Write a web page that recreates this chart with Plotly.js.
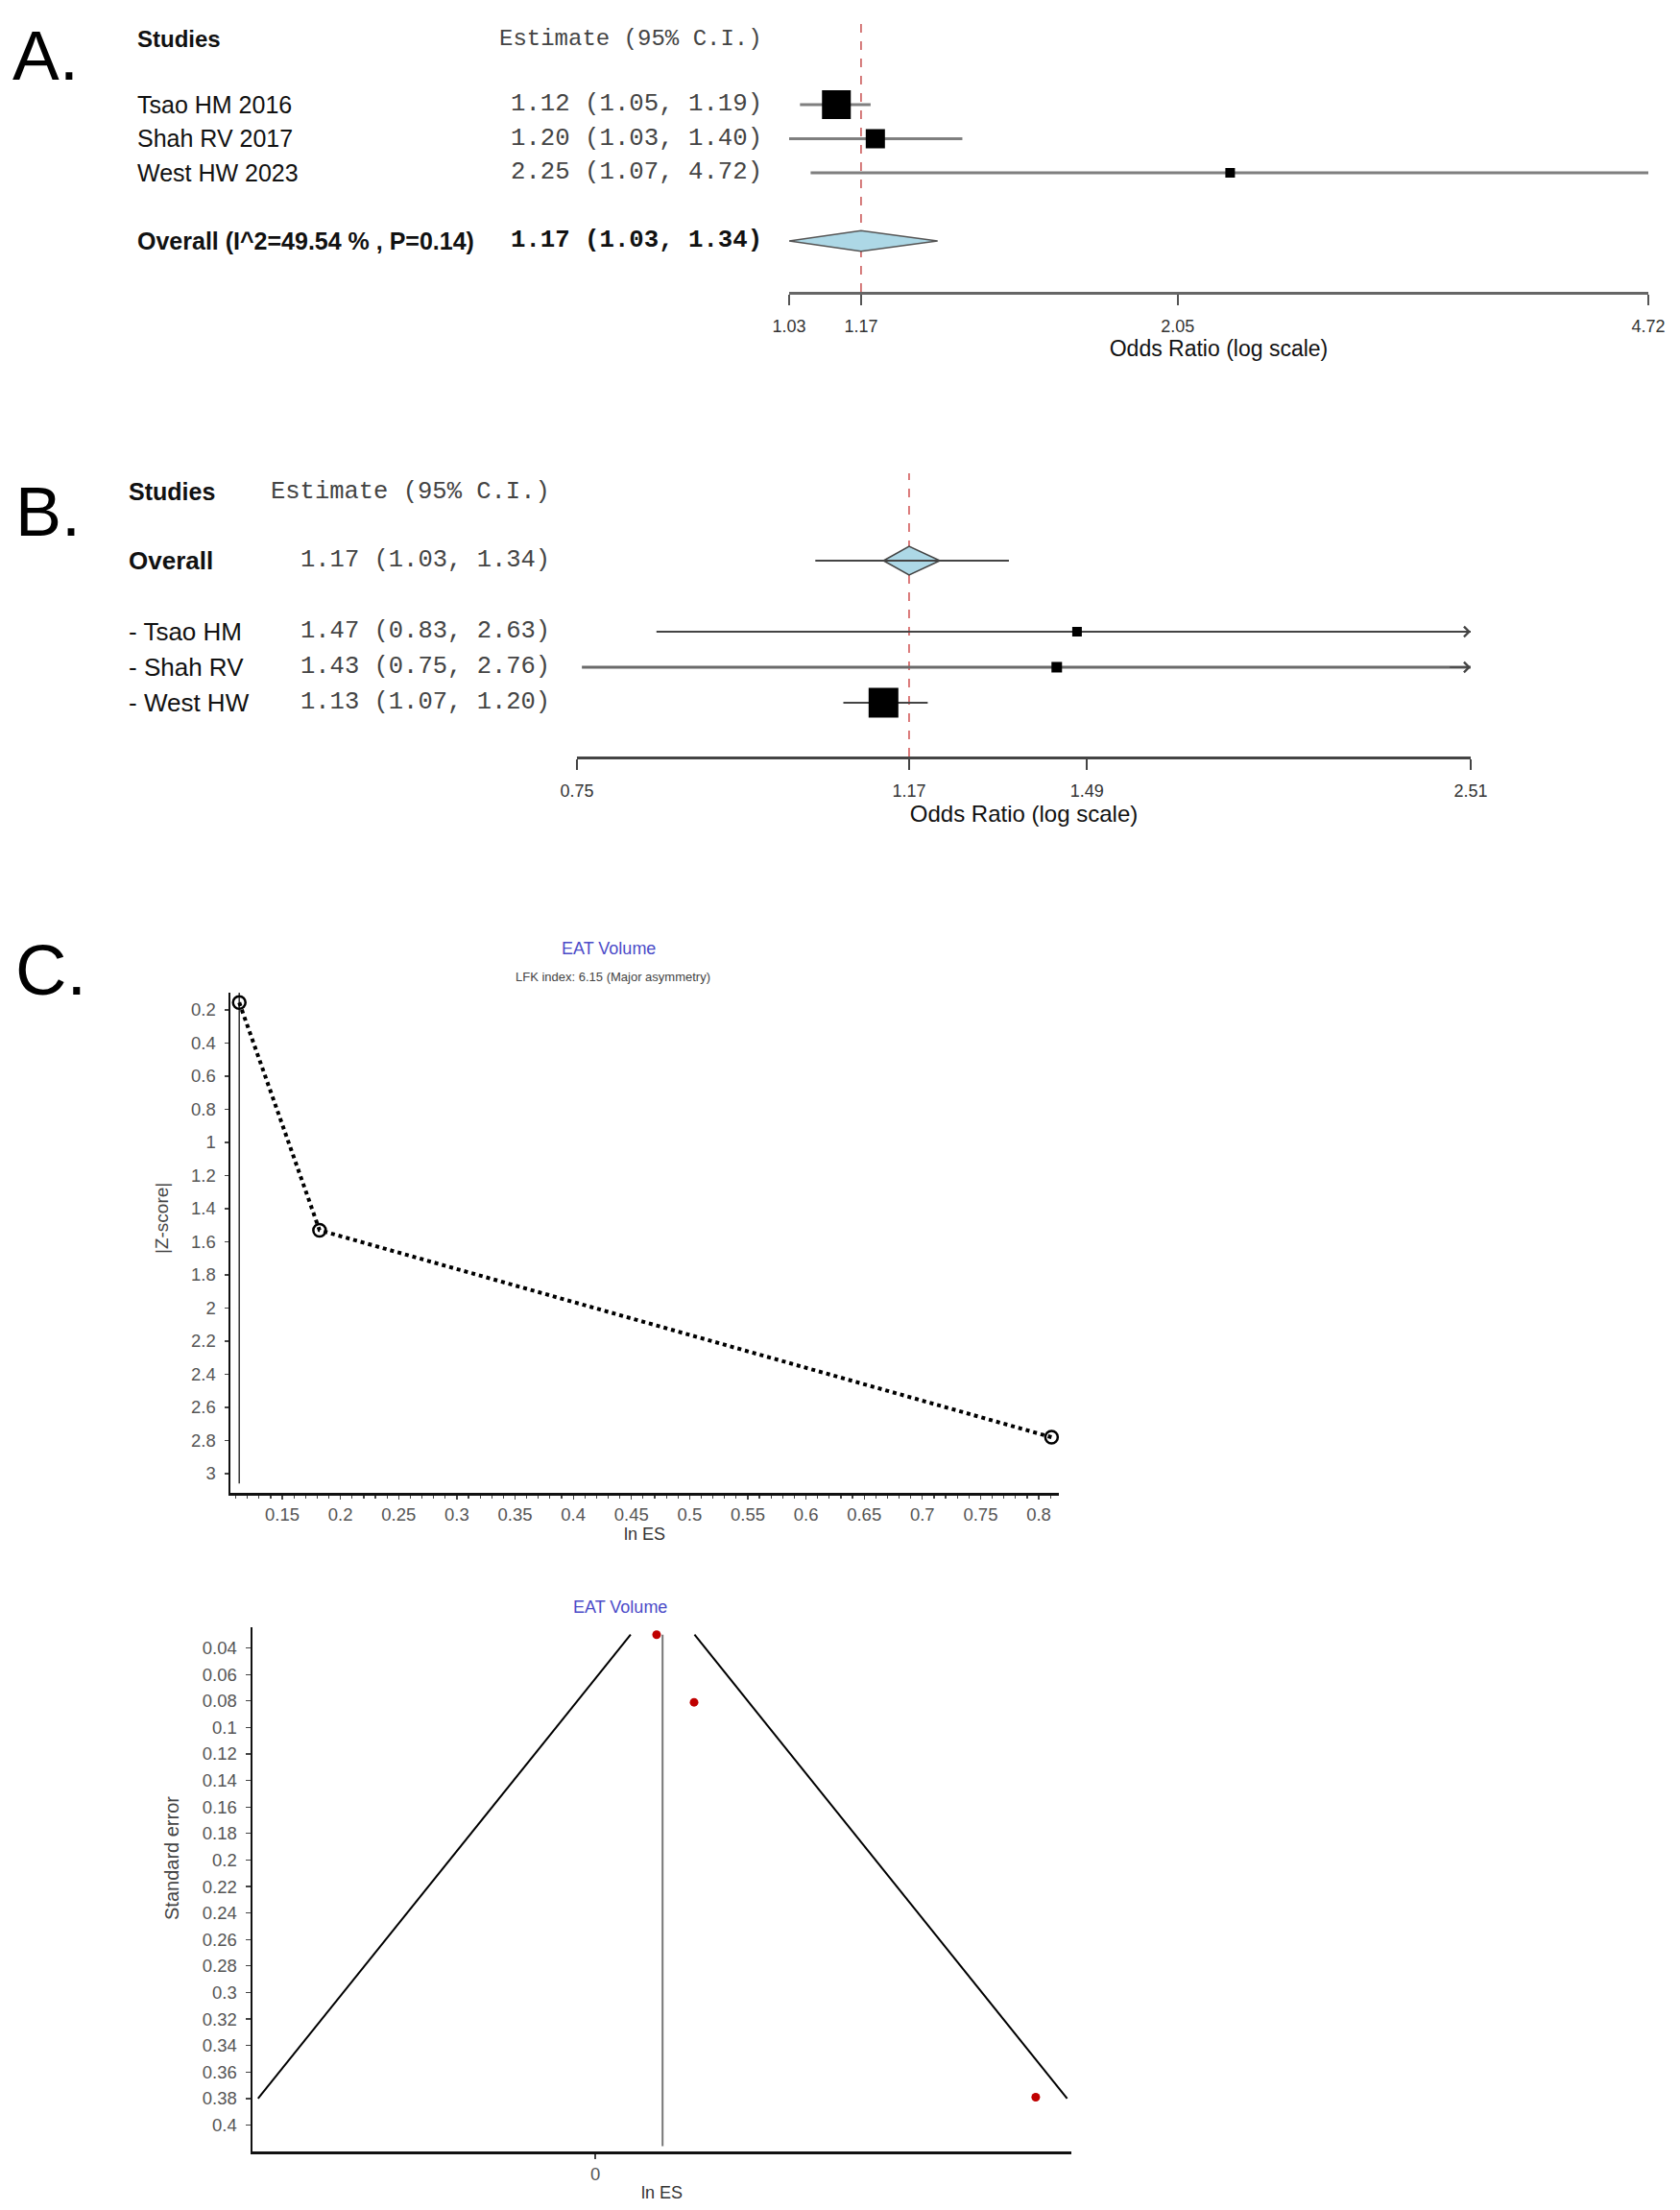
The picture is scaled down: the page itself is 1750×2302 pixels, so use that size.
<!DOCTYPE html>
<html><head><meta charset="utf-8">
<script src="https://cdn.plot.ly/plotly-3.0.1.min.js"></script>
<style>html,body{margin:0;padding:0;background:#fff}#chart{width:1750px;height:2302px}</style>
</head><body><div id="chart"></div>
<script>
// ---------------- Panel A : forest plot ----------------
const studiesA = ['Tsao HM 2016', 'Shah RV 2017', 'West HW 2023'];
const estA = [1.12, 1.20, 2.25];
const lowA = [1.05, 1.03, 1.07];
const highA = [1.19, 1.40, 4.72];
const overallA = [1.17, 1.03, 1.34];        // estimate, lower, upper
const hetA = [49.54, 0.14];                  // I^2 (%), P
const ticksA = [1.03, 1.17, 2.05, 4.72];

// ---------------- Panel B : leave-one-out ----------------
const studiesB = ['- Tsao HM', '- Shah RV', '- West HW'];
const estB = [1.47, 1.43, 1.13];
const lowB = [0.83, 0.75, 1.07];
const highB = [2.63, 2.76, 1.20];
const overallB = [1.17, 1.03, 1.34];
const overallBInner = [1.13, 1.22];
const ticksB = [0.745, 1.17, 1.49, 2.51];
const tickLabelsB = ['0.75', '1.17', '1.49', '2.51'];

// ---------------- Panel C : Doi plot and funnel plot ----------------
const plotTitleC = 'EAT Volume';
const lfkIndex = 6.15;
const lfkLabel = 'Major asymmetry';
const lnES = [0.113, 0.182, 0.811];
const zScore = [0.155, 1.53, 2.78];
const stdErr = [0.030, 0.081, 0.379];
const pooledLnES = 0.124;
const funnelSE = [0.030, 0.380];

// ---------------- styles ----------------
const W = 1750, H = 2302;
const px = v => v / W, py = v => 1 - v / H;
const SANS = 'Liberation Sans, Arial, sans-serif';
const MONO = 'Liberation Mono, Courier New, monospace';
const boxA = [30, 20, 10];
const boxB = [10, 11, 31];
const rowsA = [5, 4, 3], rowA_overall = 1;
const rowsB = [3, 2, 1], rowB_overall = 5;
const yRangeA = [-0.493, 7.535];
const yRangeB = [-0.514, 7.459];
const fmt = v => v.toFixed(2);
const ciText = (e, l, h) => fmt(e) + ' (' + fmt(l) + ', ' + fmt(h) + ')';

const traces = [];
const annotations = [];

// ---- A traces ----
traces.push({x: [overallA[0], overallA[0]], y: yRangeA, xaxis: 'x', yaxis: 'y', mode: 'lines',
  line: {color: '#c8504f', width: 1.5, dash: 'dash'}, hoverinfo: 'skip'});
studiesA.forEach((s, i) => {
  traces.push({x: [lowA[i], highA[i]], y: [rowsA[i], rowsA[i]], xaxis: 'x', yaxis: 'y', mode: 'lines',
    line: {color: '#7f7f7f', width: 3}, cliponaxis: false});
});
traces.push({x: estA, y: rowsA, xaxis: 'x', yaxis: 'y', mode: 'markers', cliponaxis: false,
  marker: {symbol: 'square', size: boxA, color: '#000', opacity: 1, line: {width: 0}}});
const hA = 0.3;
traces.push({x: [overallA[1], overallA[0], overallA[2], overallA[0], overallA[1]],
  y: [rowA_overall, rowA_overall + hA, rowA_overall, rowA_overall - hA, rowA_overall],
  xaxis: 'x', yaxis: 'y', mode: 'lines', fill: 'toself', fillcolor: '#add8e6',
  line: {color: '#555', width: 1.5}});

// ---- B traces ----
traces.push({x: [overallB[0], overallB[0]], y: yRangeB, xaxis: 'x2', yaxis: 'y2', mode: 'lines',
  line: {color: '#d0504f', width: 1.5, dash: 'dash'}, hoverinfo: 'skip'});
const axMaxB = ticksB[ticksB.length - 1], axMinB = ticksB[0];
studiesB.forEach((s, i) => {
  traces.push({x: [Math.max(lowB[i], axMinB), Math.min(highB[i], axMaxB)], y: [rowsB[i], rowsB[i]],
    xaxis: 'x2', yaxis: 'y2', mode: 'lines', line: {color: i === 1 ? '#6a6a6a' : '#444', width: i === 1 ? 3 : 2},
    cliponaxis: false});
  if (highB[i] > axMaxB) {
    annotations.push({xref: 'x2', yref: 'y2', axref: 'x2', ayref: 'y2',
      x: Math.log10(axMaxB), y: rowsB[i], ax: Math.log10(axMaxB * 0.97), ay: rowsB[i],
      showarrow: true, arrowhead: 4, arrowsize: 1.3, arrowwidth: 1.6, arrowcolor: '#444', text: ''});
  }
});
traces.push({x: estB, y: rowsB, xaxis: 'x2', yaxis: 'y2', mode: 'markers',
  marker: {symbol: 'square', size: boxB, color: '#000', opacity: 1, line: {width: 0}}});
const hB = 0.405;
traces.push({x: [overallBInner[0], overallB[0], overallBInner[1], overallB[0], overallBInner[0]],
  y: [rowB_overall, rowB_overall + hB, rowB_overall, rowB_overall - hB, rowB_overall],
  xaxis: 'x2', yaxis: 'y2', mode: 'lines', fill: 'toself', fillcolor: '#add8e6',
  line: {color: '#444', width: 1.5}});
traces.push({x: [overallB[1], overallB[2]], y: [rowB_overall, rowB_overall], xaxis: 'x2', yaxis: 'y2',
  mode: 'lines', line: {color: '#444', width: 2}});

// ---- C top: Doi plot ----
traces.push({x: [lnES[0], lnES[0]], y: [0.0957, 3.06], xaxis: 'x3', yaxis: 'y3', mode: 'lines',
  line: {color: '#333', width: 1.5}});
traces.push({x: lnES, y: zScore, xaxis: 'x3', yaxis: 'y3', mode: 'lines+markers', cliponaxis: false,
  line: {color: '#000', width: 4, dash: 'dot'},
  marker: {symbol: 'circle-open', size: 13, color: '#000', opacity: 1, line: {width: 2.5, color: '#000'}}});

// ---- C bottom: funnel plot ----
traces.push({x: [pooledLnES - 1.96 * funnelSE[0], pooledLnES - 1.96 * funnelSE[1], null,
                 pooledLnES + 1.96 * funnelSE[0], pooledLnES + 1.96 * funnelSE[1]],
  y: [funnelSE[0], funnelSE[1], null, funnelSE[0], funnelSE[1]], xaxis: 'x4', yaxis: 'y4',
  mode: 'lines', line: {color: '#000', width: 2}});
traces.push({x: [pooledLnES, pooledLnES], y: [funnelSE[0], 0.416], xaxis: 'x4', yaxis: 'y4', mode: 'lines',
  line: {color: '#777', width: 2}});
traces.push({x: lnES, y: stdErr, xaxis: 'x4', yaxis: 'y4', mode: 'markers', cliponaxis: false,
  marker: {symbol: 'circle', size: 9, color: '#c00000', opacity: 1, line: {width: 0}}});

// ---------------- annotations (text) ----------------
function ann(text, x, y, o) {
  annotations.push(Object.assign({text: text, x: px(x), y: py(y), xref: 'paper', yref: 'paper',
    showarrow: false, xanchor: 'left', yanchor: 'middle', borderpad: 0,
    font: {family: SANS, size: 24, color: '#111'}}, o || {}));
}
function rowAnn(text, x, row, yref, o) {
  annotations.push(Object.assign({text: text, x: px(x), y: row, xref: 'paper', yref: yref,
    showarrow: false, xanchor: 'left', yanchor: 'middle', borderpad: 0,
    font: {family: SANS, size: 25, color: '#111'}}, o || {}));
}
// panel letters
ann('A.', 12, 57, {font: {family: SANS, size: 73, color: '#000'}});
ann('B.', 15, 533, {font: {family: SANS, size: 72, color: '#000'}});
ann('C.', 15, 1011, {font: {family: SANS, size: 74, color: '#000'}});

// A text
ann('<b>Studies</b>', 142, 40);
ann('Estimate (95% C.I.)', 795, 40, {xanchor: 'right', font: {family: MONO, size: 24, color: '#444'}});
studiesA.forEach((s, i) => {
  rowAnn(s, 142, rowsA[i], 'y');
  rowAnn(ciText(estA[i], lowA[i], highA[i]), 795, rowsA[i], 'y',
    {xanchor: 'right', font: {family: MONO, size: 25.7, color: '#444'}});
});
rowAnn('<b>Overall (I^2=' + hetA[0].toFixed(2) + ' % , P=' + hetA[1].toFixed(2) + ')</b>', 142, rowA_overall, 'y');
rowAnn('<b>' + ciText(overallA[0], overallA[1], overallA[2]) + '</b>', 795, rowA_overall, 'y',
  {xanchor: 'right', font: {family: MONO, size: 25.7, color: '#111'}});

// B text
ann('<b>Studies</b>', 133, 512, {font: {family: SANS, size: 25, color: '#111'}});
ann('Estimate (95% C.I.)', 574, 512, {xanchor: 'right', font: {family: MONO, size: 25.5, color: '#444'}});
rowAnn('<b>Overall</b>', 133, rowB_overall, 'y2', {font: {family: SANS, size: 26, color: '#111'}});
rowAnn(ciText(overallB[0], overallB[1], overallB[2]), 574, rowB_overall, 'y2',
  {xanchor: 'right', font: {family: MONO, size: 25.5, color: '#444'}});
studiesB.forEach((s, i) => {
  rowAnn(s, 133, rowsB[i], 'y2', {font: {family: SANS, size: 26, color: '#111'}});
  rowAnn(ciText(estB[i], lowB[i], highB[i]), 574, rowsB[i], 'y2',
    {xanchor: 'right', font: {family: MONO, size: 25.5, color: '#444'}});
});

// C titles
ann(plotTitleC, 634, 988, {xanchor: 'center', font: {family: SANS, size: 18, color: '#4b4bc8'}});
ann('LFK index: ' + lfkIndex.toFixed(2) + ' (' + lfkLabel + ')', 638, 1017,
  {xanchor: 'center', font: {family: SANS, size: 13, color: '#444'}});
ann(plotTitleC, 646, 1674, {xanchor: 'center', font: {family: SANS, size: 18, color: '#4b4bc8'}});
ann('|Z-score|', 168, 1269, {xanchor: 'center', textangle: -90, font: {family: SANS, size: 19, color: '#444'}});
ann('Standard error', 179, 1936, {xanchor: 'center', textangle: -90, font: {family: SANS, size: 20, color: '#444'}});

// ---------------- layout ----------------
const forestX = {type: 'log', showgrid: false, zeroline: false, showline: true, ticks: 'outside',
  ticklen: 11, tickwidth: 2, tickcolor: '#555', linecolor: '#666', linewidth: 2.5,
  tickfont: {family: SANS, size: 18, color: '#333'}};
const cAxis = {showgrid: false, zeroline: false, showline: true, linecolor: '#111', linewidth: 2.5,
  ticks: 'outside', ticklen: 5, tickwidth: 1.2, tickcolor: '#444',
  tickfont: {family: SANS, size: 18.5, color: '#555'}};

const layout = {
  width: W, height: H, margin: {l: 0, r: 0, t: 0, b: 0}, showlegend: false,
  paper_bgcolor: '#fff', plot_bgcolor: 'rgba(0,0,0,0)', font: {family: SANS},
  xaxis: Object.assign({}, forestX, {domain: [px(822), px(1717)], anchor: 'y',
    range: [Math.log10(ticksA[0]), Math.log10(ticksA[3])], tickmode: 'array', tickvals: ticksA,
    ticktext: ticksA.map(fmt), ticklabelstandoff: 7,
    title: {text: 'Odds Ratio (log scale)', font: {family: SANS, size: 23, color: '#111'}, standoff: 6}}),
  yaxis: {domain: [py(304), py(19)], range: yRangeA, visible: false, anchor: 'x'},
  xaxis2: Object.assign({}, forestX, {domain: [px(601), px(1532)], anchor: 'y2', linecolor: '#444', linewidth: 3,
    range: [Math.log10(ticksB[0]), Math.log10(ticksB[3])], tickmode: 'array', tickvals: ticksB,
    ticktext: tickLabelsB, tickcolor: '#444', ticklabelstandoff: 6,
    title: {text: 'Odds Ratio (log scale)', font: {family: SANS, size: 24, color: '#111'}, standoff: 6}}),
  yaxis2: {domain: [py(788), py(493)], range: yRangeB, visible: false, anchor: 'x2'},
  xaxis3: Object.assign({}, cAxis, {domain: [px(240), px(1103)], anchor: 'y3', range: [0.1054, 0.8173],
    tick0: 0, dtick: 0.05, ticklen: 4, minor: {dtick: 0.01, ticks: 'outside', ticklen: 3, tickcolor: '#444'},
    title: {text: 'ln ES', font: {family: SANS, size: 18, color: '#333'}, standoff: 2}}),
  yaxis3: Object.assign({}, cAxis, {domain: [py(1555), py(1034)], anchor: 'x3', range: [3.116, 0.0957],
    tick0: 0, dtick: 0.2, ticklen: 4, ticklabelstandoff: 5}),
  xaxis4: Object.assign({}, cAxis, {domain: [px(263), px(1116)], anchor: 'y4', range: [-0.631, 0.8766],
    tickmode: 'array', tickvals: [0], ticktext: ['0'],
    title: {text: 'ln ES', font: {family: SANS, size: 18, color: '#333'}, standoff: 4}}),
  yaxis4: Object.assign({}, cAxis, {domain: [py(2241), py(1695)], anchor: 'x4', range: [0.4199, 0.0244],
    tick0: 0, dtick: 0.02, ticklabelstandoff: 5}),
  annotations: annotations
};

Plotly.newPlot('chart', traces, layout, {staticPlot: true, displayModeBar: false});
</script></body></html>
